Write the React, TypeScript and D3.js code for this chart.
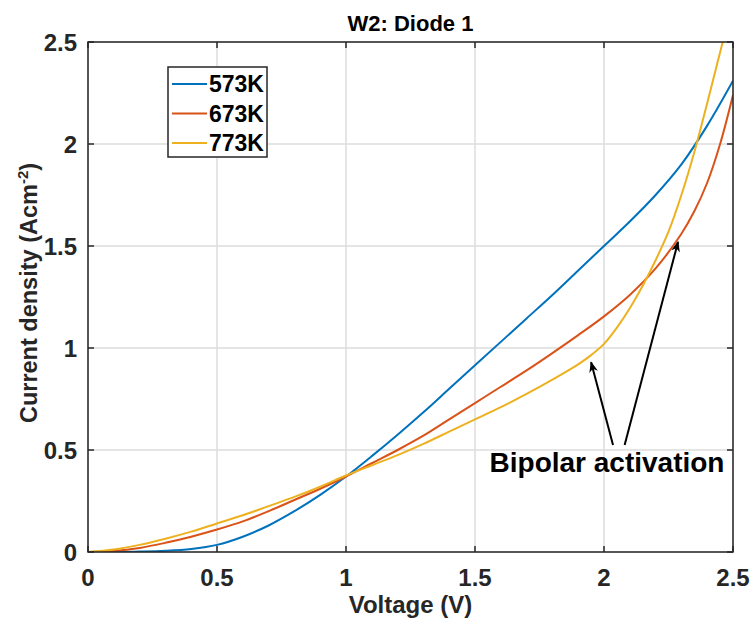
import React from "react";
import * as d3 from "d3";

const voltage = [0, 0.1, 0.2, 0.3, 0.4, 0.5, 0.6, 0.7, 0.8, 0.9, 1.0, 1.1, 1.2, 1.3, 1.4, 1.5, 1.6, 1.7, 1.8, 1.9, 2.0, 2.1, 2.2, 2.3, 2.4, 2.5];
const j573 = [0, 0, 0.002, 0.006, 0.015, 0.035, 0.075, 0.13, 0.2, 0.28, 0.37, 0.47, 0.575, 0.685, 0.8, 0.915, 1.03, 1.145, 1.26, 1.38, 1.5, 1.62, 1.75, 1.9, 2.09, 2.31];
const v673 = [0, 0.1, 0.2, 0.3, 0.4, 0.5, 0.6, 0.7, 0.8, 0.9, 1.0, 1.1, 1.2, 1.3, 1.4, 1.5, 1.6, 1.7, 1.8, 1.9, 2.0, 2.1, 2.2, 2.3, 2.35, 2.4, 2.45, 2.5];
const j673 = [0, 0.005, 0.02, 0.045, 0.075, 0.11, 0.15, 0.2, 0.255, 0.31, 0.37, 0.435, 0.5, 0.57, 0.65, 0.73, 0.81, 0.89, 0.975, 1.063, 1.155, 1.26, 1.39, 1.56, 1.67, 1.81, 2.0, 2.24];
const v773 = [0, 0.1, 0.2, 0.3, 0.4, 0.5, 0.6, 0.7, 0.8, 0.9, 1.0, 1.1, 1.2, 1.3, 1.4, 1.5, 1.6, 1.7, 1.8, 1.9, 1.95, 2.0, 2.05, 2.1, 2.15, 2.2, 2.25, 2.3, 2.35, 2.4, 2.45, 2.46];
const j773 = [0, 0.012, 0.035, 0.065, 0.1, 0.14, 0.18, 0.225, 0.27, 0.32, 0.375, 0.425, 0.475, 0.53, 0.59, 0.65, 0.71, 0.775, 0.845, 0.92, 0.965, 1.02, 1.1, 1.195, 1.305, 1.43, 1.57, 1.75, 1.96, 2.2, 2.45, 2.5];

const seriesNames = ["573K", "673K", "773K"];
const seriesColors = ["#0072BD", "#D95319", "#EDB120"];
const xTicks = [0, 0.5, 1, 1.5, 2, 2.5];
const yTicks = [0, 0.5, 1, 1.5, 2, 2.5];
const annotationText = "Bipolar activation";
// arrows: [tailV, tailJ, tipV, tipJ]
const arrowsData = [
  [2.035, 0.525, 1.95, 0.93],
  [2.08, 0.525, 2.287, 1.52],
];

export default function App() {
  const W = 750, H = 619;
  const L = 88, R = 733, T = 42, B = 552;
  const x = d3.scaleLinear().domain([0, 2.5]).range([L, R]);
  const y = d3.scaleLinear().domain([0, 2.5]).range([B, T]);
  const line = d3.line<[number, number]>().x(d => x(d[0])).y(d => y(d[1])).curve(d3.curveCatmullRom.alpha(0.5));
  const series = [
    voltage.map((v, i) => [v, j573[i]] as [number, number]),
    v673.map((v, i) => [v, j673[i]] as [number, number]),
    v773.map((v, i) => [v, j773[i]] as [number, number]),
  ];
  const font = "'Liberation Sans', Arial, sans-serif";
  const axisCol = "#262626";
  return (
    <svg width={W} height={H} style={{ position: "absolute", left: 0, top: 0, background: "#fff" }} fontFamily={font}>
      <defs>
        <clipPath id="plotclip"><rect x={L} y={T} width={R - L} height={B - T} /></clipPath>
        <marker id="ah" viewBox="0 0 10 10" refX="9" refY="5" markerWidth="11" markerHeight="11" markerUnits="userSpaceOnUse" orient="auto">
          <path d="M0,1 L10,5 L0,9 L3,5 Z" fill="#000" />
        </marker>
      </defs>
      <rect x={0} y={0} width={W} height={H} fill="#fff" />
      {xTicks.map(t => (
        <line key={"gx" + t} x1={x(t)} x2={x(t)} y1={T} y2={B} stroke="#dcdcdc" strokeWidth={1.5} />
      ))}
      {yTicks.map(t => (
        <line key={"gy" + t} x1={L} x2={R} y1={y(t)} y2={y(t)} stroke="#dcdcdc" strokeWidth={1.5} />
      ))}
      <g clipPath="url(#plotclip)">
        {series.map((s, i) => (
          <path key={i} d={line(s) || ""} fill="none" stroke={seriesColors[i]} strokeWidth={2} />
        ))}
      </g>
      <rect x={L} y={T} width={R - L} height={B - T} fill="none" stroke={axisCol} strokeWidth={1.5} />
      {xTicks.map(t => (
        <g key={"tx" + t}>
          <line x1={x(t)} x2={x(t)} y1={B} y2={B - 6} stroke={axisCol} strokeWidth={1.5} />
          <line x1={x(t)} x2={x(t)} y1={T} y2={T + 6} stroke={axisCol} strokeWidth={1.5} />
          <text x={x(t)} y={586} textAnchor="middle" fontSize={24} fontWeight="bold" fill={axisCol}>{t}</text>
        </g>
      ))}
      {yTicks.map(t => (
        <g key={"ty" + t}>
          <line x1={L} x2={L + 6} y1={y(t)} y2={y(t)} stroke={axisCol} strokeWidth={1.5} />
          <line x1={R} x2={R - 6} y1={y(t)} y2={y(t)} stroke={axisCol} strokeWidth={1.5} />
          <text x={L - 11} y={y(t) + 8.5} textAnchor="end" fontSize={24} fontWeight="bold" fill={axisCol}>{t}</text>
        </g>
      ))}
      <text x={(L + R) / 2} y={31} textAnchor="middle" fontSize={22} fontWeight="bold" fill="#000">W2: Diode 1</text>
      <text x={(L + R) / 2} y={613} textAnchor="middle" fontSize={24} fontWeight="bold" fill={axisCol}>Voltage (V)</text>
      <text transform={`translate(37, ${(T + B) / 2 - 4}) rotate(-90)`} textAnchor="middle" fontSize={23.5} fontWeight="bold" fill={axisCol}>
        Current density (Acm<tspan dy={-9} fontSize={15}>-2</tspan><tspan dy={9}>)</tspan>
      </text>
      <g>
        <rect x={168} y={67} width={99} height={90} fill="#fff" stroke={axisCol} strokeWidth={1.5} />
        {seriesNames.map((n, i) => (
          <g key={n}>
            <line x1={172} x2={207} y1={84 + i * 29.5} y2={84 + i * 29.5} stroke={seriesColors[i]} strokeWidth={2} />
            <text x={209} y={84 + i * 29.5 + 8} fontSize={23} fontWeight="bold" fill="#000">{n}</text>
          </g>
        ))}
      </g>
      {arrowsData.map((a, i) => (
        <line key={"ar" + i} x1={x(a[0])} y1={y(a[1])} x2={x(a[2])} y2={y(a[3])} stroke="#000" strokeWidth={2} markerEnd="url(#ah)" />
      ))}
      <text x={607} y={472} textAnchor="middle" fontSize={28} fontWeight="bold" fill="#000">{annotationText}</text>
    </svg>
  );
}
